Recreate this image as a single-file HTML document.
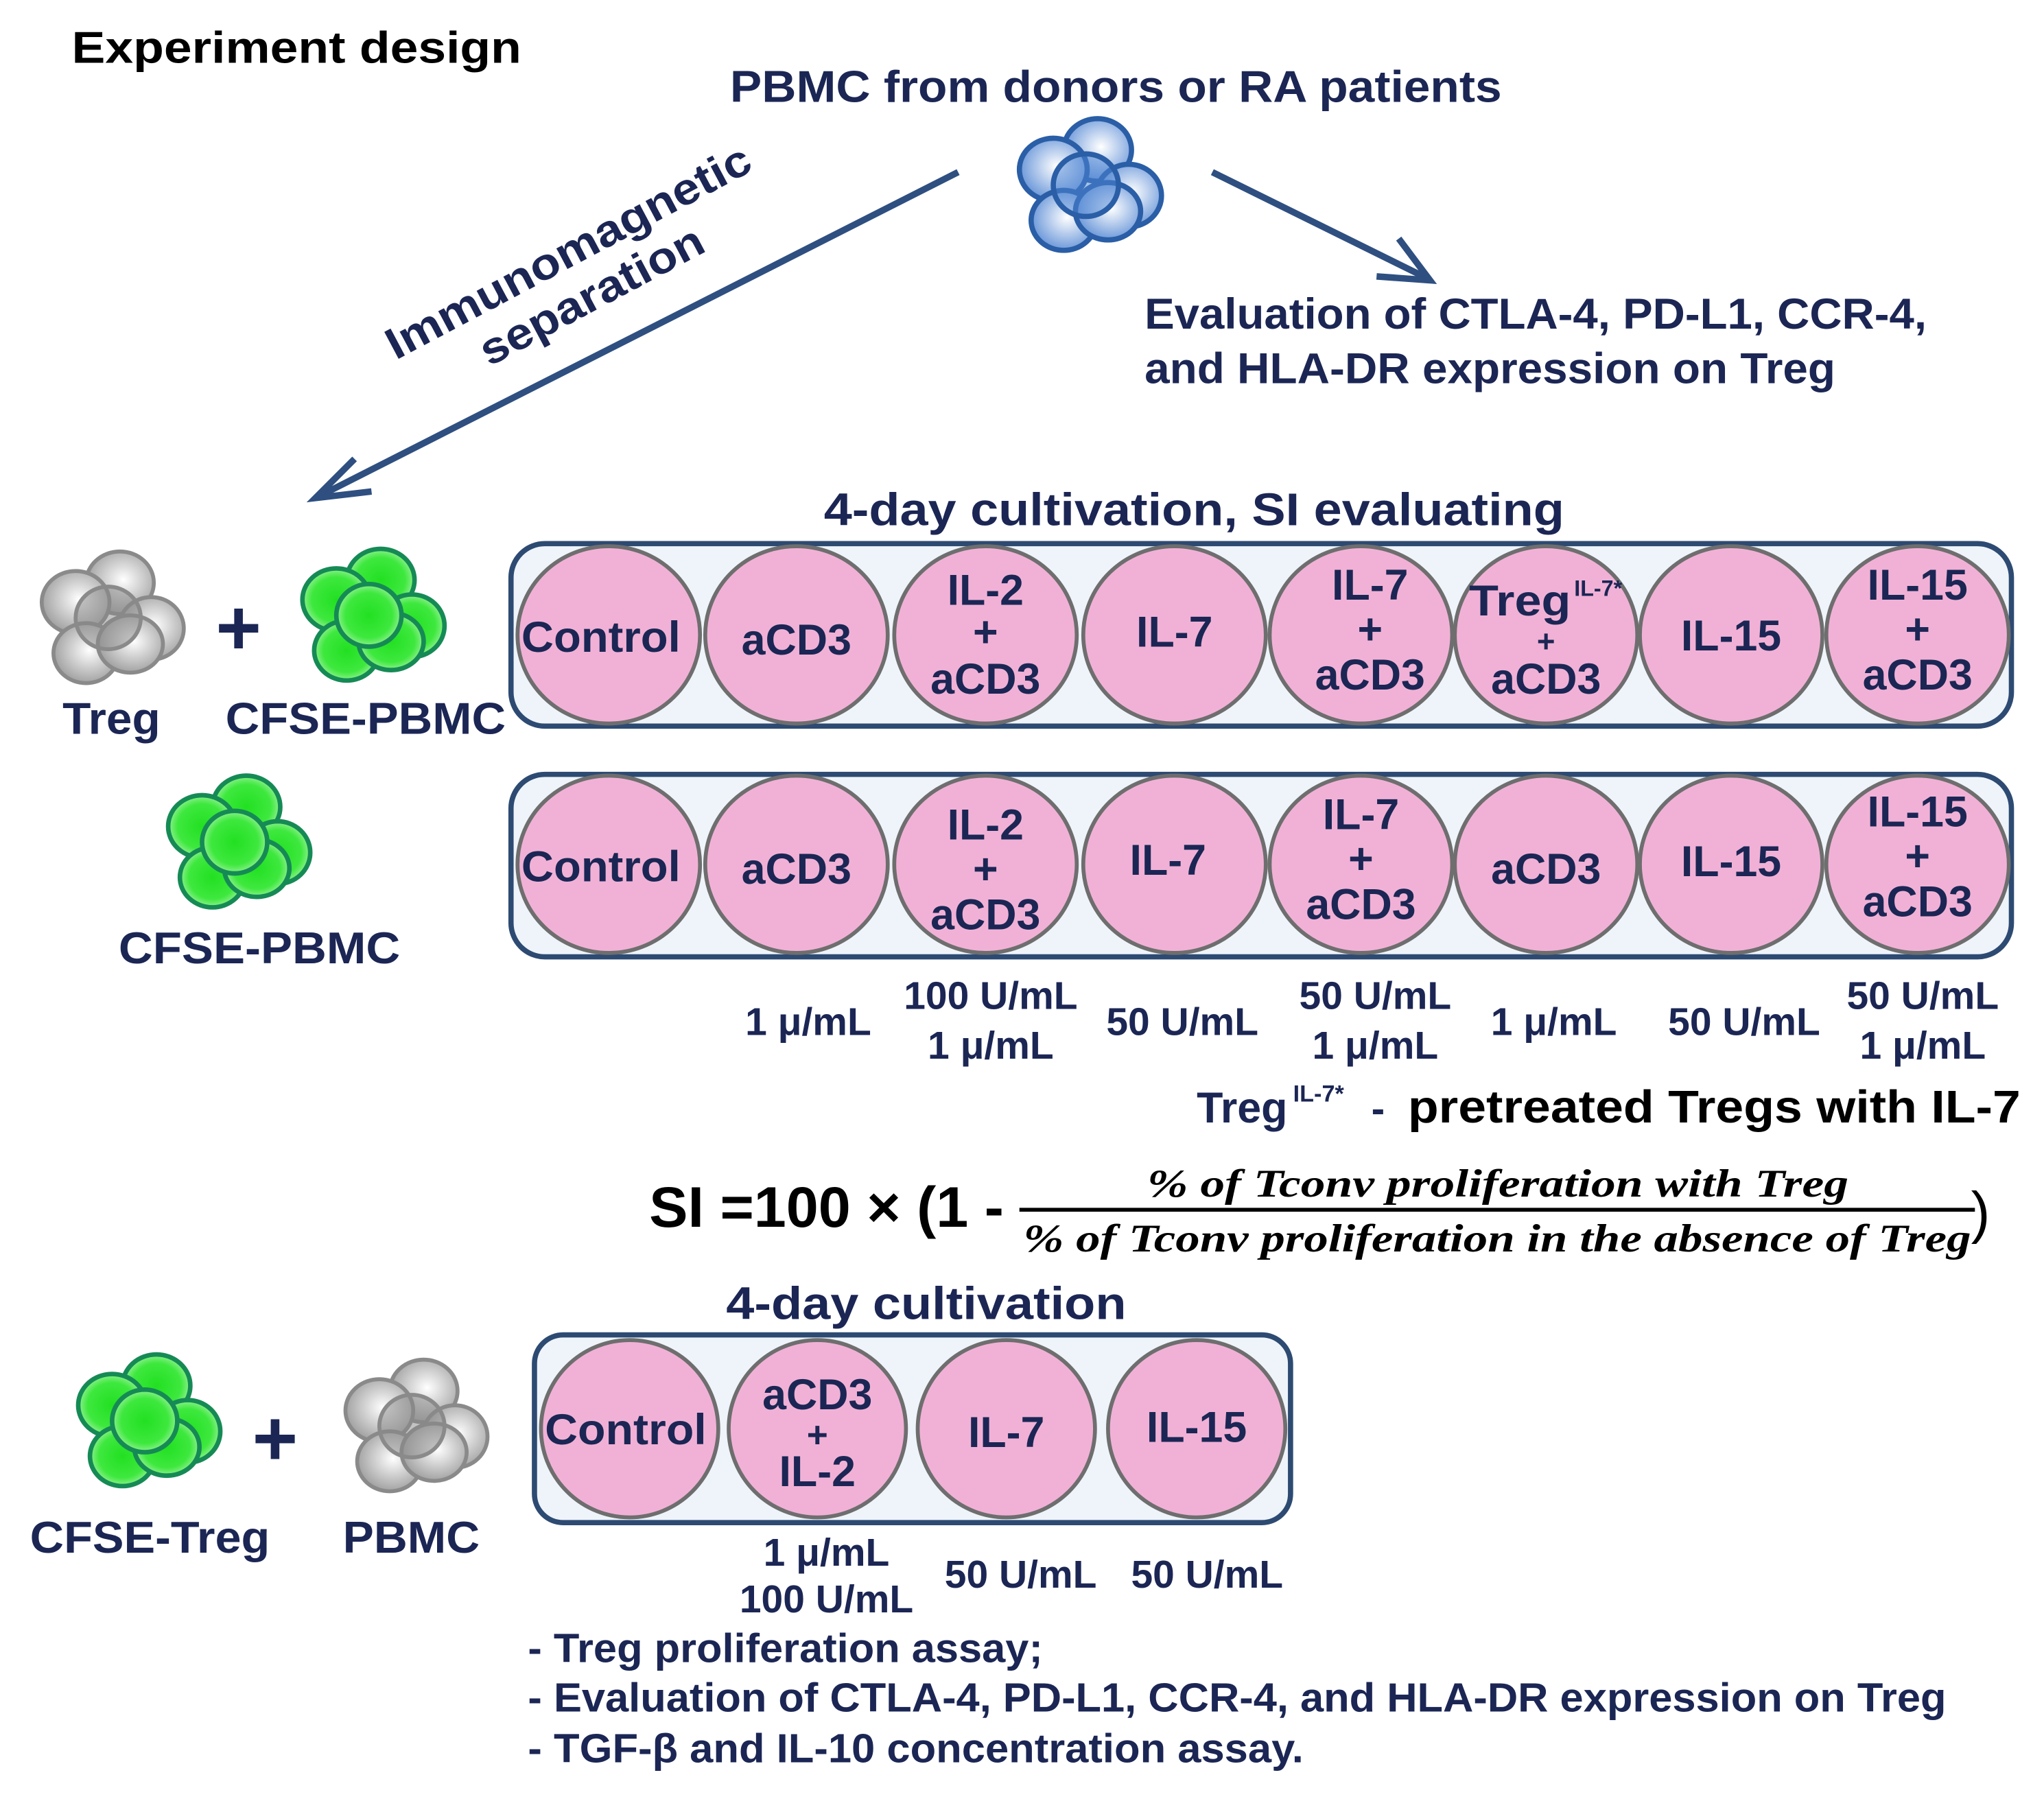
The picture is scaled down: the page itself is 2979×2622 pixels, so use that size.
<!DOCTYPE html>
<html><head><meta charset="utf-8"><style>
html,body{margin:0;padding:0;background:#fff;}
svg{display:block;}
text{font-family:"Liberation Sans",sans-serif;font-weight:bold;}
.n{fill:#1b2654;}
.k{fill:#000;}
</style></head><body>
<svg width="2979" height="2622" viewBox="0 0 1568 1380" xmlns="http://www.w3.org/2000/svg">
<defs>
<radialGradient id="gb" cx="0.55" cy="0.45" r="0.6"><stop offset="0" stop-color="#fff"/><stop offset="1" stop-color="#5f8fd6"/></radialGradient>
<radialGradient id="gg" cx="0.5" cy="0.5" r="0.6"><stop offset="0" stop-color="#22e022"/><stop offset="0.6" stop-color="#3ee83e"/><stop offset="1" stop-color="#c8f8c8"/></radialGradient>
<radialGradient id="gy" cx="0.55" cy="0.45" r="0.6"><stop offset="0" stop-color="#fff"/><stop offset="1" stop-color="#9a9a9a"/></radialGradient>
<g id="cb" stroke="#2a5ea6" stroke-width="4" fill="url(#gb)">
<ellipse cx="6" cy="-27" rx="26" ry="24"/><ellipse cx="-28" cy="-12" rx="26" ry="24"/><ellipse cx="30" cy="8" rx="25" ry="24"/><ellipse cx="-20" cy="27" rx="25" ry="23"/><ellipse cx="14" cy="20" rx="25" ry="22"/><ellipse cx="-3" cy="0" rx="25" ry="24" fill="#4d85d3" fill-opacity="0.5"/>
</g>
<g id="cg" stroke="#168a55" stroke-width="3.5" fill="url(#gg)">
<ellipse cx="6" cy="-27" rx="26" ry="24"/><ellipse cx="-28" cy="-12" rx="26" ry="24"/><ellipse cx="30" cy="8" rx="25" ry="24"/><ellipse cx="-20" cy="27" rx="25" ry="23"/><ellipse cx="14" cy="20" rx="25" ry="22"/><ellipse cx="-3" cy="0" rx="25" ry="24"/>
</g>
<g id="cy" stroke="#8a8a8a" stroke-width="3" fill="url(#gy)">
<ellipse cx="6" cy="-27" rx="26" ry="24"/><ellipse cx="-28" cy="-12" rx="26" ry="24"/><ellipse cx="30" cy="8" rx="25" ry="24"/><ellipse cx="-20" cy="27" rx="25" ry="23"/><ellipse cx="14" cy="20" rx="25" ry="22"/><ellipse cx="-3" cy="0" rx="25" ry="24" fill="#888" fill-opacity="0.5"/>
</g>
</defs>

<text x="55" y="48" font-size="34" class="k" textLength="345" lengthAdjust="spacingAndGlyphs">Experiment design</text>
<text x="560" y="78" font-size="34" class="n" fill="#1f3a6e" textLength="592" lengthAdjust="spacingAndGlyphs">PBMC from donors or RA patients</text>
<use href="#cb" x="836" y="142"/>

<line x1="735" y1="132" x2="244" y2="381" stroke="#2e4f80" stroke-width="5"/>
<path d="M272,352 L242,382 L285,377" fill="none" stroke="#2e4f80" stroke-width="5"/>
<line x1="930" y1="132" x2="1096" y2="214" stroke="#2e4f80" stroke-width="5"/>
<path d="M1056,212 L1097,215 L1073,183" fill="none" stroke="#2e4f80" stroke-width="5"/>

<g transform="translate(446,212) rotate(-28)">
<text x="0" y="-10" font-size="34" text-anchor="middle" class="n" textLength="312" lengthAdjust="spacingAndGlyphs">Immunomagnetic</text>
<text x="0" y="28" font-size="34" text-anchor="middle" class="n" textLength="190" lengthAdjust="spacingAndGlyphs">separation</text>
</g>

<text x="878" y="252" font-size="33" class="n" textLength="600" lengthAdjust="spacingAndGlyphs">Evaluation of CTLA-4, PD-L1, CCR-4,</text>
<text x="878" y="294" font-size="33" class="n" textLength="530" lengthAdjust="spacingAndGlyphs">and HLA-DR expression on Treg</text>

<text x="632" y="403" font-size="35" class="n" textLength="568" lengthAdjust="spacingAndGlyphs">4-day cultivation, SI evaluating</text>

<use href="#cy" x="86" y="474"/>
<text x="183" y="502" font-size="60" text-anchor="middle" class="n">+</text>
<use href="#cg" x="286" y="472"/>
<text x="48" y="563" font-size="34" class="n" textLength="75" lengthAdjust="spacingAndGlyphs">Treg</text>
<text x="173" y="563" font-size="34" class="n" textLength="215" lengthAdjust="spacingAndGlyphs">CFSE-PBMC</text>
<use href="#cg" x="183" y="646"/>
<text x="91" y="739" font-size="34" class="n" textLength="216" lengthAdjust="spacingAndGlyphs">CFSE-PBMC</text>

<g stroke="#2d4a72" stroke-width="4" fill="#eef4fa">
<rect x="392" y="417" width="1151" height="140" rx="26"/>
<rect x="392" y="594" width="1151" height="140" rx="26"/>
<rect x="410" y="1024" width="580" height="144" rx="22"/>
</g>
<g fill="#f1b1d6" stroke="#6e6e6e" stroke-width="3">
<ellipse cx="467" cy="487" rx="70" ry="68"/><ellipse cx="611" cy="487" rx="70" ry="68"/><ellipse cx="756" cy="487" rx="70" ry="68"/><ellipse cx="901" cy="487" rx="70" ry="68"/><ellipse cx="1044" cy="487" rx="70" ry="68"/><ellipse cx="1186" cy="487" rx="70" ry="68"/><ellipse cx="1328" cy="487" rx="70" ry="68"/><ellipse cx="1471" cy="487" rx="70" ry="68"/>
<ellipse cx="467" cy="663" rx="70" ry="68"/><ellipse cx="611" cy="663" rx="70" ry="68"/><ellipse cx="756" cy="663" rx="70" ry="68"/><ellipse cx="901" cy="663" rx="70" ry="68"/><ellipse cx="1044" cy="663" rx="70" ry="68"/><ellipse cx="1186" cy="663" rx="70" ry="68"/><ellipse cx="1328" cy="663" rx="70" ry="68"/><ellipse cx="1471" cy="663" rx="70" ry="68"/>
<ellipse cx="483" cy="1096" rx="68" ry="68"/><ellipse cx="627" cy="1096" rx="68" ry="68"/><ellipse cx="772" cy="1096" rx="68" ry="68"/><ellipse cx="918" cy="1096" rx="68" ry="68"/>
</g>

<g font-size="33" text-anchor="middle" class="n">
<text x="461" y="500" textLength="122" lengthAdjust="spacingAndGlyphs">Control</text>
<text x="611" y="502">aCD3</text>
<text x="756" y="464">IL-2</text><text x="756" y="496">+</text><text x="756" y="532">aCD3</text>
<text x="901" y="496">IL-7</text>
<text x="1051" y="460">IL-7</text><text x="1051" y="494">+</text><text x="1051" y="529">aCD3</text>
<text x="1166" y="472" textLength="78" lengthAdjust="spacingAndGlyphs">Treg</text><text x="1226" y="457" font-size="17">IL-7*</text>
<text x="1186" y="500" font-size="24">+</text><text x="1186" y="532">aCD3</text>
<text x="1328" y="499">IL-15</text>
<text x="1471" y="460">IL-15</text><text x="1471" y="494">+</text><text x="1471" y="529">aCD3</text>

<text x="461" y="676" textLength="122" lengthAdjust="spacingAndGlyphs">Control</text>
<text x="611" y="678">aCD3</text>
<text x="756" y="644">IL-2</text><text x="756" y="678">+</text><text x="756" y="713">aCD3</text>
<text x="896" y="671">IL-7</text>
<text x="1044" y="636">IL-7</text><text x="1044" y="670">+</text><text x="1044" y="705">aCD3</text>
<text x="1186" y="678">aCD3</text>
<text x="1328" y="672">IL-15</text>
<text x="1471" y="634">IL-15</text><text x="1471" y="668">+</text><text x="1471" y="703">aCD3</text>

<text x="480" y="1108" textLength="124" lengthAdjust="spacingAndGlyphs">Control</text>
<text x="627" y="1081">aCD3</text><text x="627" y="1110" font-size="28">+</text><text x="627" y="1140">IL-2</text>
<text x="772" y="1110">IL-7</text>
<text x="918" y="1106">IL-15</text>
</g>

<g font-size="30" text-anchor="middle" class="n">
<text x="620" y="794">1 μ/mL</text>
<text x="760" y="774">100 U/mL</text><text x="760" y="812">1 μ/mL</text>
<text x="907" y="794">50 U/mL</text>
<text x="1055" y="774">50 U/mL</text><text x="1055" y="812">1 μ/mL</text>
<text x="1192" y="794">1 μ/mL</text>
<text x="1338" y="794">50 U/mL</text>
<text x="1475" y="774">50 U/mL</text><text x="1475" y="812">1 μ/mL</text>
<text x="634" y="1201">1 μ/mL</text><text x="634" y="1237">100 U/mL</text>
<text x="783" y="1218">50 U/mL</text>
<text x="926" y="1218">50 U/mL</text>
</g>

<text x="918" y="861" font-size="33" class="n">Treg</text><text x="992" y="845" font-size="18" class="n">IL-7*</text>
<text x="1052" y="861" font-size="31" class="n">-</text>
<text x="1080" y="861" font-size="35" class="k" textLength="470" lengthAdjust="spacingAndGlyphs">pretreated Tregs with IL-7</text>

<text x="498" y="941" font-size="44" class="k" textLength="272" lengthAdjust="spacingAndGlyphs">SI =100 × (1 -</text>
<line x1="782" y1="928" x2="1515" y2="928" stroke="#000" stroke-width="3"/>
<text x="880" y="918" font-size="30" font-style="italic" fill="#000" style="font-family:'Liberation Serif',serif" textLength="538" lengthAdjust="spacingAndGlyphs">% of Tconv proliferation with Treg</text>
<text x="785" y="960" font-size="30" font-style="italic" fill="#000" style="font-family:'Liberation Serif',serif" textLength="727" lengthAdjust="spacingAndGlyphs">% of Tconv proliferation in the absence of Treg</text>
<text x="1512" y="945" font-size="44" class="k" style="font-weight:normal">)</text>

<text x="557" y="1012" font-size="35" class="n" textLength="307" lengthAdjust="spacingAndGlyphs">4-day cultivation</text>

<use href="#cg" x="114" y="1090"/>
<text x="211" y="1124" font-size="60" text-anchor="middle" class="n">+</text>
<use href="#cy" x="319" y="1094"/>
<text x="23" y="1191" font-size="34" class="n" textLength="184" lengthAdjust="spacingAndGlyphs">CFSE-Treg</text>
<text x="263" y="1191" font-size="34" class="n" textLength="105" lengthAdjust="spacingAndGlyphs">PBMC</text>

<g font-size="31" class="n">
<text x="405" y="1275" textLength="395" lengthAdjust="spacingAndGlyphs">- Treg proliferation assay;</text>
<text x="405" y="1313" textLength="1088" lengthAdjust="spacingAndGlyphs">- Evaluation of CTLA-4, PD-L1, CCR-4, and HLA-DR expression on Treg</text>
<text x="405" y="1352" textLength="595" lengthAdjust="spacingAndGlyphs">- TGF-β and IL-10 concentration assay.</text>
</g>
</svg>
</body></html>
